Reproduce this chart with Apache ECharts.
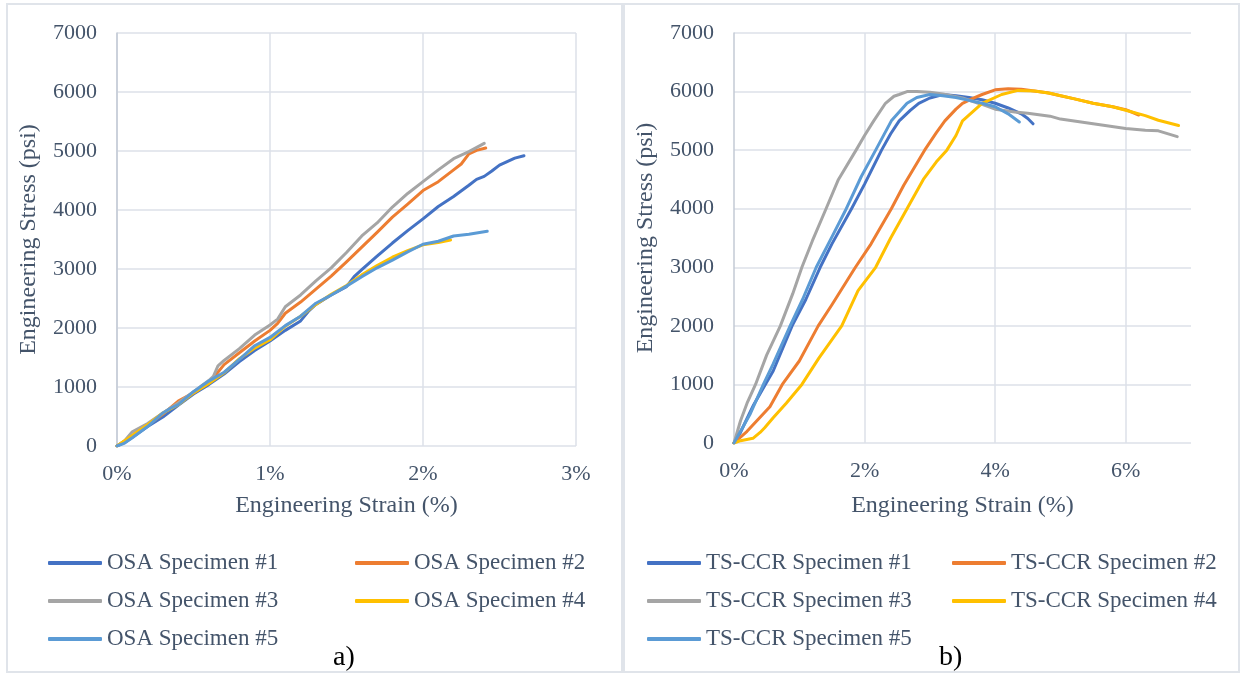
<!DOCTYPE html>
<html>
<head>
<meta charset="utf-8">
<script src="https://cdn.jsdelivr.net/npm/echarts@6/dist/echarts.min.js"></script>
<style>
  html, body { margin: 0; padding: 0; background: #fff; }
  .panel { position: absolute; top: 3px; width: 617px; height: 670px; box-sizing: border-box; border: 2px solid #e0e4ea; }
  #left { left: 6px; }
  #right { left: 623px; }
</style>
</head>
<body>
<div id="left" class="panel"></div>
<div id="right" class="panel"></div>
<script>
// ---- data (strain in %, stress in psi) ----
const stressTicks = [0, 1000, 2000, 3000, 4000, 5000, 6000, 7000];

const osaNames = ['OSA Specimen #1', 'OSA Specimen #2', 'OSA Specimen #3', 'OSA Specimen #4', 'OSA Specimen #5'];
const osa1Strain = [0, 0.05, 0.1, 0.2, 0.3, 0.4, 0.5, 0.6, 0.7, 0.8, 0.9, 1.0, 1.1, 1.2, 1.25, 1.3, 1.4, 1.5, 1.55, 1.6, 1.7, 1.8, 1.9, 2.0, 2.1, 2.2, 2.3, 2.35, 2.4, 2.45, 2.5, 2.6, 2.66];
const osa1Stress = [0, 60, 150, 330, 490, 690, 880, 1040, 1220, 1430, 1620, 1780, 1960, 2120, 2280, 2400, 2560, 2700, 2870, 2990, 3220, 3440, 3650, 3850, 4060, 4230, 4420, 4520, 4570, 4660, 4760, 4880, 4920];
const osa2Strain = [0, 0.1, 0.2, 0.3, 0.4, 0.5, 0.6, 0.65, 0.7, 0.8, 0.9, 1.0, 1.05, 1.1, 1.2, 1.3, 1.4, 1.5, 1.6, 1.7, 1.8, 1.9, 2.0, 2.1, 2.2, 2.25, 2.3, 2.35, 2.41];
const osa2Stress = [0, 170, 350, 540, 760, 900, 1080, 1220, 1380, 1580, 1780, 1960, 2080, 2250, 2440, 2660, 2880, 3120, 3370, 3620, 3880, 4100, 4330, 4480, 4680, 4780, 4950, 5010, 5050];
const osa3Strain = [0, 0.05, 0.1, 0.2, 0.3, 0.4, 0.5, 0.6, 0.63, 0.66, 0.7, 0.8, 0.9, 1.0, 1.05, 1.1, 1.2, 1.3, 1.4, 1.5, 1.6, 1.7, 1.8, 1.9, 2.0, 2.1, 2.2, 2.3, 2.4];
const osa3Stress = [0, 90, 240, 380, 560, 730, 920, 1110, 1180, 1360, 1450, 1650, 1880, 2050, 2150, 2360, 2560, 2800, 3020, 3280, 3560, 3780, 4050, 4280, 4480, 4680, 4870, 4990, 5130];
const osa4Strain = [0, 0.1, 0.2, 0.3, 0.4, 0.5, 0.6, 0.7, 0.8, 0.9, 1.0, 1.1, 1.2, 1.3, 1.4, 1.5, 1.6, 1.7, 1.8, 1.9, 2.0, 2.1, 2.18];
const osa4Stress = [0, 180, 360, 560, 700, 900, 1060, 1240, 1480, 1660, 1800, 2030, 2200, 2400, 2570, 2720, 2900, 3060, 3200, 3310, 3410, 3450, 3490];
const osa5Strain = [0, 0.05, 0.1, 0.2, 0.3, 0.35, 0.4, 0.5, 0.6, 0.7, 0.8, 0.9, 1.0, 1.1, 1.2, 1.3, 1.4, 1.5, 1.6, 1.7, 1.8, 1.9, 2.0, 2.1, 2.2, 2.3, 2.42];
const osa5Stress = [0, 50, 140, 330, 560, 640, 700, 920, 1100, 1250, 1470, 1700, 1840, 2040, 2200, 2420, 2560, 2710, 2870, 3020, 3150, 3290, 3420, 3470, 3560, 3590, 3640];

const tsNames = ['TS-CCR Specimen #1', 'TS-CCR Specimen #2', 'TS-CCR Specimen #3', 'TS-CCR Specimen #4', 'TS-CCR Specimen #5'];
const ts1Strain = [0, 0.1, 0.2, 0.3, 0.48, 0.6, 0.89, 1.1, 1.32, 1.5, 1.8, 2.0, 2.26, 2.4, 2.53, 2.7, 2.83, 3.0, 3.2, 3.4, 3.6, 3.8, 4.0, 4.2, 4.4, 4.5, 4.58];
const ts1Stress = [0, 180, 420, 650, 1000, 1230, 2000, 2450, 3000, 3400, 4000, 4420, 5000, 5280, 5500, 5680, 5800, 5890, 5950, 5930, 5900, 5860, 5800, 5720, 5620, 5540, 5450];
const ts2Strain = [0, 0.2, 0.4, 0.55, 0.74, 1.0, 1.29, 1.5, 1.86, 2.1, 2.41, 2.6, 2.92, 3.1, 3.23, 3.4, 3.5, 3.65, 3.8, 4.0, 4.2, 4.4, 4.6, 4.8, 5.0, 5.2, 5.5, 5.8, 6.0, 6.2];
const ts2Stress = [0, 200, 440, 620, 1000, 1400, 2000, 2360, 3000, 3400, 4000, 4400, 5000, 5300, 5500, 5700, 5800, 5880, 5950, 6030, 6050, 6040, 6010, 5980, 5930, 5880, 5800, 5740, 5690, 5600];
const ts3Strain = [0, 0.1, 0.2, 0.33, 0.5, 0.71, 0.9, 1.04, 1.2, 1.41, 1.6, 1.87, 2.0, 2.14, 2.32, 2.45, 2.53, 2.65, 2.8, 3.0, 3.2, 3.5, 3.8, 4.0, 4.3, 4.5, 4.84, 5.0, 5.5, 6.0, 6.3, 6.5, 6.79];
const ts3Stress = [0, 380, 680, 1000, 1500, 2000, 2550, 3000, 3450, 4000, 4500, 5000, 5250, 5500, 5800, 5920, 5950, 6000, 6000, 5990, 5960, 5890, 5780, 5700, 5650, 5630, 5580, 5530, 5450, 5370, 5340, 5330, 5230];
const ts4Strain = [0, 0.1, 0.29, 0.4, 0.47, 0.6, 0.8, 1.04, 1.3, 1.65, 1.9, 2.17, 2.4, 2.65, 2.9, 3.1, 3.26, 3.4, 3.5, 3.65, 3.8, 4.1, 4.35, 4.6, 4.84, 5.2, 5.5, 5.8, 6.0, 6.3, 6.5, 6.81];
const ts4Stress = [0, 40, 80, 180, 260, 430, 680, 1000, 1450, 2000, 2600, 3000, 3500, 4000, 4500, 4800, 5000, 5250, 5500, 5650, 5800, 5950, 6020, 6010, 5970, 5880, 5800, 5740, 5680, 5590, 5510, 5420];
const ts5Strain = [0, 0.1, 0.25, 0.45, 0.6, 0.86, 1.05, 1.26, 1.5, 1.72, 1.95, 2.17, 2.41, 2.65, 2.8, 3.0, 3.2, 3.4, 3.6, 3.8, 4.0, 4.2, 4.37];
const ts5Stress = [0, 200, 500, 1000, 1350, 2000, 2450, 3000, 3520, 4000, 4550, 5000, 5500, 5800, 5900, 5950, 5930, 5900, 5850, 5800, 5740, 5620, 5480];

const colors = ['#4472C4', '#ED7D31', '#A5A5A5', '#FFC000', '#5B9BD5'];
const textColor = '#44546A';
const gridColor = '#dde1e8';
const font = '"Liberation Serif", "Times New Roman", serif';

const zip = (xs, ys) => xs.map((x, i) => [x, ys[i]]);

const legendStyle = (left, names) => ({
  orient: 'vertical',
  left, top: 541,
  data: names,
  icon: 'roundRect',
  itemWidth: 54, itemHeight: 4, itemGap: 14,
  textStyle: { color: textColor, fontFamily: font, fontSize: 23, lineHeight: 24 },
});

function buildOption({ names, series, xMax, xInterval, gridWidth, gridHeight, xNameGap, legendLeft, tag, tagLeft, xLines }) {
  return {
    animation: false,
    color: colors,
    textStyle: { fontFamily: font },
    grid: { left: 109, top: 28, width: gridWidth, height: gridHeight },
    xAxis: {
      type: 'value', min: 0, max: xMax, interval: xInterval,
      name: 'Engineering Strain (%)', nameLocation: 'middle', nameGap: xNameGap,
      nameTextStyle: { color: textColor, fontSize: 24, fontFamily: font },
      axisLine: { show: false }, axisTick: { show: false },
      axisLabel: { color: textColor, fontSize: 22, fontFamily: font, margin: 17, showMaxLabel: xLines ? false : true, formatter: (v) => v + '%' },
      splitLine: { show: !xLines, lineStyle: { color: gridColor, width: 1.5 } },
    },
    yAxis: {
      type: 'value', min: stressTicks[0], max: stressTicks[stressTicks.length - 1], interval: 1000,
      name: 'Engineering Stress (psi)', nameLocation: 'middle', nameGap: 76,
      nameTextStyle: { color: textColor, fontSize: 24, fontFamily: font },
      axisLine: { show: true, lineStyle: { color: '#c3cad5', width: 1.5 } }, axisTick: { show: false },
      axisLabel: { color: textColor, fontSize: 22, fontFamily: font, margin: 20, formatter: (v) => String(v) },
      splitLine: { lineStyle: { color: gridColor, width: 1.5 } },
    },
    legend: [
      legendStyle(legendLeft[0], [names[0], names[2], names[4]]),
      legendStyle(legendLeft[1], [names[1], names[3]]),
    ],
    graphic: [{
      type: 'text', left: tagLeft, top: 639,
      style: { text: tag, fill: '#000', font: '28px ' + font },
    }],
    series: series.map((d, i) => ({
      name: names[i], type: 'line', data: d, showSymbol: false, symbol: 'none',
      lineStyle: { width: 3, cap: 'round', join: 'round' },
      markLine: (xLines && i === 0) ? {
        silent: true, symbol: 'none', z: 1, label: { show: false },
        lineStyle: { color: gridColor, width: 1.5, type: 'solid' },
        data: xLines.map((v) => ({ xAxis: v })),
      } : undefined,
    })),
  };
}

const leftChart = echarts.init(document.getElementById('left'));
leftChart.setOption(buildOption({
  names: osaNames,
  series: [zip(osa1Strain, osa1Stress), zip(osa2Strain, osa2Stress), zip(osa3Strain, osa3Stress), zip(osa4Strain, osa4Stress), zip(osa5Strain, osa5Stress)],
  xMax: 3, xInterval: 1, gridWidth: 459, gridHeight: 413, xNameGap: 48,
  legendLeft: [35, 342], tag: 'a)', tagLeft: 325,
}));

const rightChart = echarts.init(document.getElementById('right'));
rightChart.setOption(buildOption({
  names: tsNames,
  series: [zip(ts1Strain, ts1Stress), zip(ts2Strain, ts2Stress), zip(ts3Strain, ts3Stress), zip(ts4Strain, ts4Stress), zip(ts5Strain, ts5Stress)],
  xMax: 7, xInterval: 2, gridWidth: 457, gridHeight: 410, xNameGap: 51,
  legendLeft: [17, 322], tag: 'b)', tagLeft: 314, xLines: [2, 4, 6],
}));
</script>
</body>
</html>
